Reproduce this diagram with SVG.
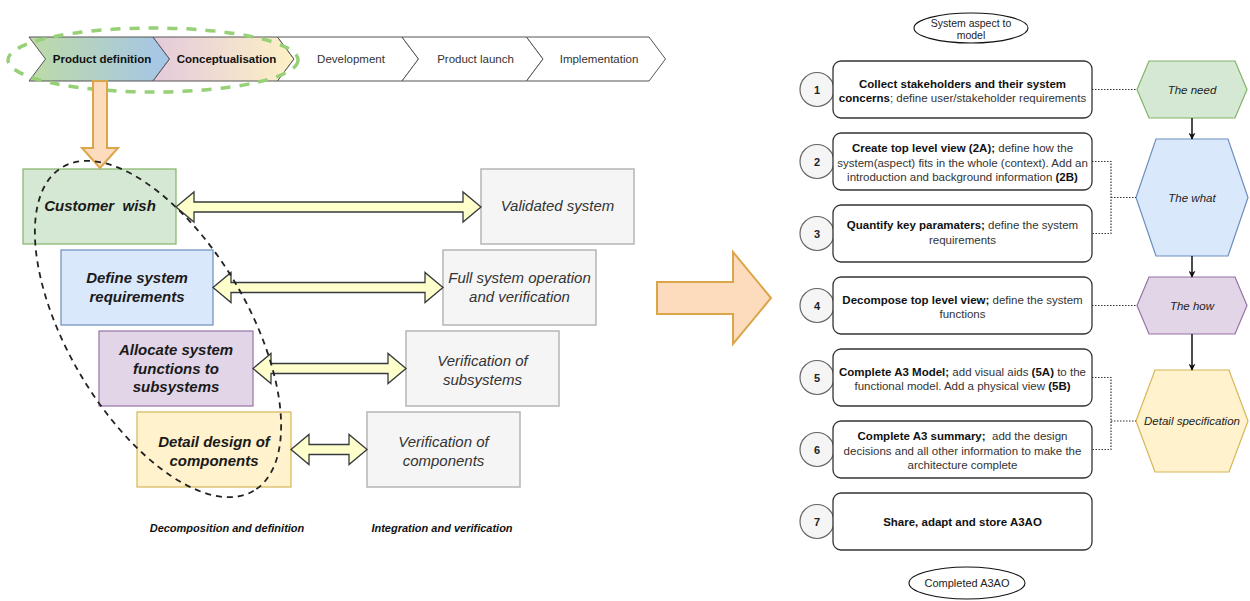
<svg xmlns="http://www.w3.org/2000/svg" width="1250" height="601" viewBox="0 0 1250 601">
  <style>
    .chev { stroke: #555; stroke-width: 1; }
    .chevtxt { font-family: "Liberation Sans", Arial, sans-serif; font-size: 11.5px; text-anchor: middle; fill: #333; }
    .chevtxt.b { font-weight: bold; fill: #111; }
    .lbox { stroke-width: 1.2; }
    .ltxt { font-family: "Liberation Sans", Arial, sans-serif; font-size: 15px; font-weight: bold; font-style: italic; text-anchor: middle; fill: #1a1a1a; }
    .gbox { fill: #f5f5f5; stroke: #b5b5b5; stroke-width: 1.5; }
    .gtxt { font-family: "Liberation Sans", Arial, sans-serif; font-size: 15px; font-style: italic; text-anchor: middle; fill: #333; }
    .dbl { fill: #ffffcc; stroke: #36393d; stroke-width: 1.3; stroke-linejoin: miter; }
    .block { fill: #fcdcbc; stroke: #dba54a; stroke-width: 2; }
    .foot { font-family: "Liberation Sans", Arial, sans-serif; font-size: 11px; font-weight: bold; font-style: italic; text-anchor: middle; fill: #111; }
    .step { fill: #fff; stroke: #333; stroke-width: 1.3; }
    .stxt { font-family: "Liberation Sans", Arial, sans-serif; font-size: 11.5px; text-anchor: middle; fill: #333; }
    .stxt .b, .stxt.b { font-weight: bold; fill: #111; }
    .num { fill: #f5f5f5; stroke: #666; stroke-width: 1.2; }
    .ntxt { font-family: "Liberation Sans", Arial, sans-serif; font-size: 11px; font-weight: bold; text-anchor: middle; fill: #222; }
    .oval { fill: #fff; stroke: #111; stroke-width: 1.1; }
    .otxt { font-family: "Liberation Sans", Arial, sans-serif; font-size: 10.5px; text-anchor: middle; fill: #222; }
    .hex { stroke-width: 1.2; }
    .htxt { font-family: "Liberation Sans", Arial, sans-serif; font-size: 11.5px; font-style: italic; text-anchor: middle; fill: #222; }
    .dot { fill: none; stroke: #333; stroke-width: 1.2; stroke-dasharray: 1.5 1.5; }
    .flow { fill: none; stroke: #111; stroke-width: 1.5; marker-end: url(#arr); }
  </style>
  <defs>
    <linearGradient id="gPD" x1="0" y1="0" x2="1" y2="0">
      <stop offset="0" stop-color="#bddba6"/>
      <stop offset="1" stop-color="#a5c5e9"/>
    </linearGradient>
    <linearGradient id="gCO" x1="0" y1="0" x2="1" y2="0">
      <stop offset="0" stop-color="#e4cadc"/>
      <stop offset="1" stop-color="#fdf1c5"/>
    </linearGradient>
    <marker id="arr" viewBox="0 0 10 10" refX="9" refY="5" markerWidth="7" markerHeight="7" markerUnits="userSpaceOnUse" orient="auto">
      <path d="M0,0 L10,5 L0,10 L3,5 Z" fill="#111"/>
    </marker>
  </defs>

  <rect width="1250" height="601" fill="#fff"/>

  <!-- Product life-cycle phases -->
  <g id="phases">
    <g id="phase-product-definition">
      <polygon class="chev" fill="url(#gPD)" points="29,37 153,37 169.5,59 153,81 29,81 45.5,59"/>
      <text class="chevtxt b" x="102" y="63">Product definition</text>
    </g>
    <g id="phase-conceptualisation">
      <polygon class="chev" fill="url(#gCO)" points="153,37 277.5,37 294,59 277.5,81 153,81 169.5,59"/>
      <text class="chevtxt b" x="226.5" y="63">Conceptualisation</text>
    </g>
    <g id="phase-development">
      <polygon class="chev" fill="#fff" points="277.5,37 402,37 418.5,59 402,81 277.5,81 294,59"/>
      <text class="chevtxt" x="351" y="63">Development</text>
    </g>
    <g id="phase-product-launch">
      <polygon class="chev" fill="#fff" points="402,37 526.5,37 543,59 526.5,81 402,81 418.5,59"/>
      <text class="chevtxt" x="475.5" y="63">Product launch</text>
    </g>
    <g id="phase-implementation">
      <polygon class="chev" fill="#fff" points="526.5,37 649,37 665.5,59 649,81 526.5,81 543,59"/>
      <text class="chevtxt" x="599" y="63">Implementation</text>
    </g>
    <ellipse id="phase-focus" cx="153" cy="60" rx="145" ry="32" fill="none" stroke="#97d077" stroke-width="3.5" stroke-dasharray="10 9"/>
  </g>

  <!-- Decomposition side of the V -->
  <g id="customer-wish">
    <rect class="lbox" x="23" y="169" width="153" height="75" fill="#d5e8d4" stroke="#82b366"/>
    <text class="ltxt" x="100" y="211" xml:space="preserve">Customer  wish</text>
  </g>
  <g id="define-requirements">
    <rect class="lbox" x="61" y="250" width="152" height="75" fill="#dae8fc" stroke="#6c8ebf"/>
    <text class="ltxt" x="137" y="283">Define system</text>
    <text class="ltxt" x="137" y="302">requirements</text>
  </g>
  <g id="allocate-functions">
    <rect class="lbox" x="99" y="331" width="154" height="75" fill="#e1d5e7" stroke="#9673a6"/>
    <text class="ltxt" x="176" y="355">Allocate system</text>
    <text class="ltxt" x="176" y="373.5">functions to</text>
    <text class="ltxt" x="176" y="392">subsystems</text>
  </g>
  <g id="detail-design">
    <rect class="lbox" x="137" y="412" width="154" height="75" fill="#fff2cc" stroke="#d6b656"/>
    <text class="ltxt" x="214" y="447">Detail design of</text>
    <text class="ltxt" x="214" y="465.5">components</text>
  </g>

  <!-- Integration side of the V -->
  <g id="validated-system">
    <rect class="gbox" x="481" y="169" width="153" height="75"/>
    <text class="gtxt" x="557.5" y="211">Validated system</text>
  </g>
  <g id="full-system-verification">
    <rect class="gbox" x="443" y="250" width="153" height="75"/>
    <text class="gtxt" x="519.5" y="283">Full system operation</text>
    <text class="gtxt" x="519.5" y="302">and verification</text>
  </g>
  <g id="subsystem-verification">
    <rect class="gbox" x="406" y="331" width="153" height="75"/>
    <text class="gtxt" x="482.5" y="366">Verification of</text>
    <text class="gtxt" x="482.5" y="384.5">subsystems</text>
  </g>
  <g id="component-verification">
    <rect class="gbox" x="367" y="412" width="153" height="75"/>
    <text class="gtxt" x="443.5" y="447">Verification of</text>
    <text class="gtxt" x="443.5" y="465.5">components</text>
  </g>

  <g id="v-captions">
    <text class="foot" x="227" y="532">Decomposition and definition</text>
    <text class="foot" x="442" y="532">Integration and verification</text>
  </g>

  <!-- Steps of the method -->
  <g id="start">
    <ellipse class="oval" cx="971" cy="28" rx="57" ry="15"/>
    <text class="otxt" x="971" y="26.5">System aspect to</text>
    <text class="otxt" x="971" y="39">model</text>
  </g>

  <g id="step-1">
    <circle class="num" cx="817" cy="89.5" r="17"/>
    <text class="ntxt" x="817" y="93.5">1</text>
    <rect class="step" x="833" y="61" width="259" height="57" rx="8"/>
    <text class="stxt b" x="962.5" y="87.5">Collect stakeholders and their system</text>
    <text class="stxt" x="962.5" y="102"><tspan class="b">concerns</tspan>; define user/stakeholder requirements</text>
  </g>
  <g id="step-2">
    <circle class="num" cx="817" cy="161.5" r="17"/>
    <text class="ntxt" x="817" y="165.5">2</text>
    <rect class="step" x="833" y="133" width="259" height="57" rx="8"/>
    <text class="stxt" x="962.5" y="152"><tspan class="b">Create top level view (2A);</tspan> define how the</text>
    <text class="stxt" x="962.5" y="166.5">system(aspect) fits in the whole (context). Add an</text>
    <text class="stxt" x="962.5" y="181">introduction and background information <tspan class="b">(2B)</tspan></text>
  </g>
  <g id="step-3">
    <circle class="num" cx="817" cy="233.5" r="17"/>
    <text class="ntxt" x="817" y="237.5">3</text>
    <rect class="step" x="833" y="205" width="259" height="57" rx="8"/>
    <text class="stxt" x="962.5" y="229"><tspan class="b">Quantify key paramaters;</tspan> define the system</text>
    <text class="stxt" x="962.5" y="243.5">requirements</text>
  </g>
  <g id="step-4">
    <circle class="num" cx="817" cy="305.5" r="17"/>
    <text class="ntxt" x="817" y="309.5">4</text>
    <rect class="step" x="833" y="277" width="259" height="57" rx="8"/>
    <text class="stxt" x="962.5" y="303.5"><tspan class="b">Decompose top level view;</tspan> define the system</text>
    <text class="stxt" x="962.5" y="318">functions</text>
  </g>
  <g id="step-5">
    <circle class="num" cx="817" cy="377.5" r="17"/>
    <text class="ntxt" x="817" y="381.5">5</text>
    <rect class="step" x="833" y="349" width="259" height="57" rx="8"/>
    <text class="stxt" x="962.5" y="375.5"><tspan class="b">Complete A3 Model;</tspan> add visual aids <tspan class="b">(5A)</tspan> to the</text>
    <text class="stxt" x="962.5" y="390">functional model. Add a physical view <tspan class="b">(5B)</tspan></text>
  </g>
  <g id="step-6">
    <circle class="num" cx="817" cy="449.5" r="17"/>
    <text class="ntxt" x="817" y="453.5">6</text>
    <rect class="step" x="833" y="421" width="259" height="57" rx="8"/>
    <text class="stxt" x="962.5" y="440" xml:space="preserve"><tspan class="b">Complete A3 summary;</tspan>  add the design</text>
    <text class="stxt" x="962.5" y="454.5">decisions and all other information to make the</text>
    <text class="stxt" x="962.5" y="469">architecture complete</text>
  </g>
  <g id="step-7">
    <circle class="num" cx="817" cy="521.5" r="17"/>
    <text class="ntxt" x="817" y="525.5">7</text>
    <rect class="step" x="833" y="493" width="259" height="57" rx="8"/>
    <text class="stxt b" x="962.5" y="526">Share, adapt and store A3AO</text>
  </g>

  <g id="end">
    <ellipse class="oval" cx="967" cy="583" rx="58" ry="16"/>
    <text class="otxt" x="967" y="587" style="font-size:11px">Completed A3AO</text>
  </g>

  <!-- Architecture levels -->
  <g id="the-need">
    <polygon class="hex" fill="#d5e8d4" stroke="#82b366" points="1149,61 1235,61 1247,89.5 1235,118 1149,118 1137,89.5"/>
    <text class="htxt" x="1192" y="93.5">The need</text>
  </g>
  <g id="the-what">
    <polygon class="hex" fill="#dae8fc" stroke="#6c8ebf" points="1156,139 1228,139 1248,197.5 1228,256 1156,256 1136,197.5"/>
    <text class="htxt" x="1192" y="201.5">The what</text>
  </g>
  <g id="the-how">
    <polygon class="hex" fill="#e1d5e7" stroke="#9673a6" points="1149,277 1235,277 1247,305.5 1235,334 1149,334 1137,305.5"/>
    <text class="htxt" x="1192" y="309.5">The how</text>
  </g>
  <g id="detail-specification">
    <polygon class="hex" fill="#fff2cc" stroke="#d6b656" points="1155,370 1229,370 1248,421 1229,472 1155,472 1136,421"/>
    <text class="htxt" x="1192" y="425">Detail specification</text>
  </g>

  <!-- Connectors -->
  <g id="connectors">
    <!-- phase to V model -->
    <polygon class="block" points="93,81 107,81 107,148 118,148 100,168 82,148 93,148"/>
    <!-- V model to method -->
    <polygon class="block" points="657,282 733,282 733,252 771,298 733,344 733,314 657,314"/>

    <!-- verification links across the V -->
    <polygon class="dbl" points="176,207 194,192 194,202 463,202 463,192 481,207 463,222 463,212 194,212 194,222"/>
    <polygon class="dbl" points="213,287.5 231,272.5 231,282.5 425,282.5 425,272.5 443,287.5 425,302.5 425,292.5 231,292.5 231,302.5"/>
    <polygon class="dbl" points="253,368.5 271,353.5 271,363.5 388,363.5 388,353.5 406,368.5 388,383.5 388,373.5 271,373.5 271,383.5"/>
    <polygon class="dbl" points="291,449.5 309,434.5 309,444.5 349,444.5 349,434.5 367,449.5 349,464.5 349,454.5 309,454.5 309,464.5"/>

    <!-- steps to architecture levels -->
    <path class="dot" d="M1092,89.5 H1137"/>
    <path class="dot" d="M1092,161.5 H1111 V233.5 H1092 M1111,197.5 H1136"/>
    <path class="dot" d="M1092,305.5 H1137"/>
    <path class="dot" d="M1092,377.5 H1111 V449.5 H1092 M1111,421 H1136"/>

    <!-- level sequence -->
    <path class="flow" d="M1192,118 V139"/>
    <path class="flow" d="M1192,256 V277"/>
    <path class="flow" d="M1192,334 V370"/>
  </g>

  <!-- scope of decomposition -->
  <ellipse id="decomposition-scope" cx="158" cy="329" rx="188" ry="90" transform="rotate(59.4 158 329)" fill="none" stroke="#222" stroke-width="1.8" stroke-dasharray="6 5"/>
</svg>
